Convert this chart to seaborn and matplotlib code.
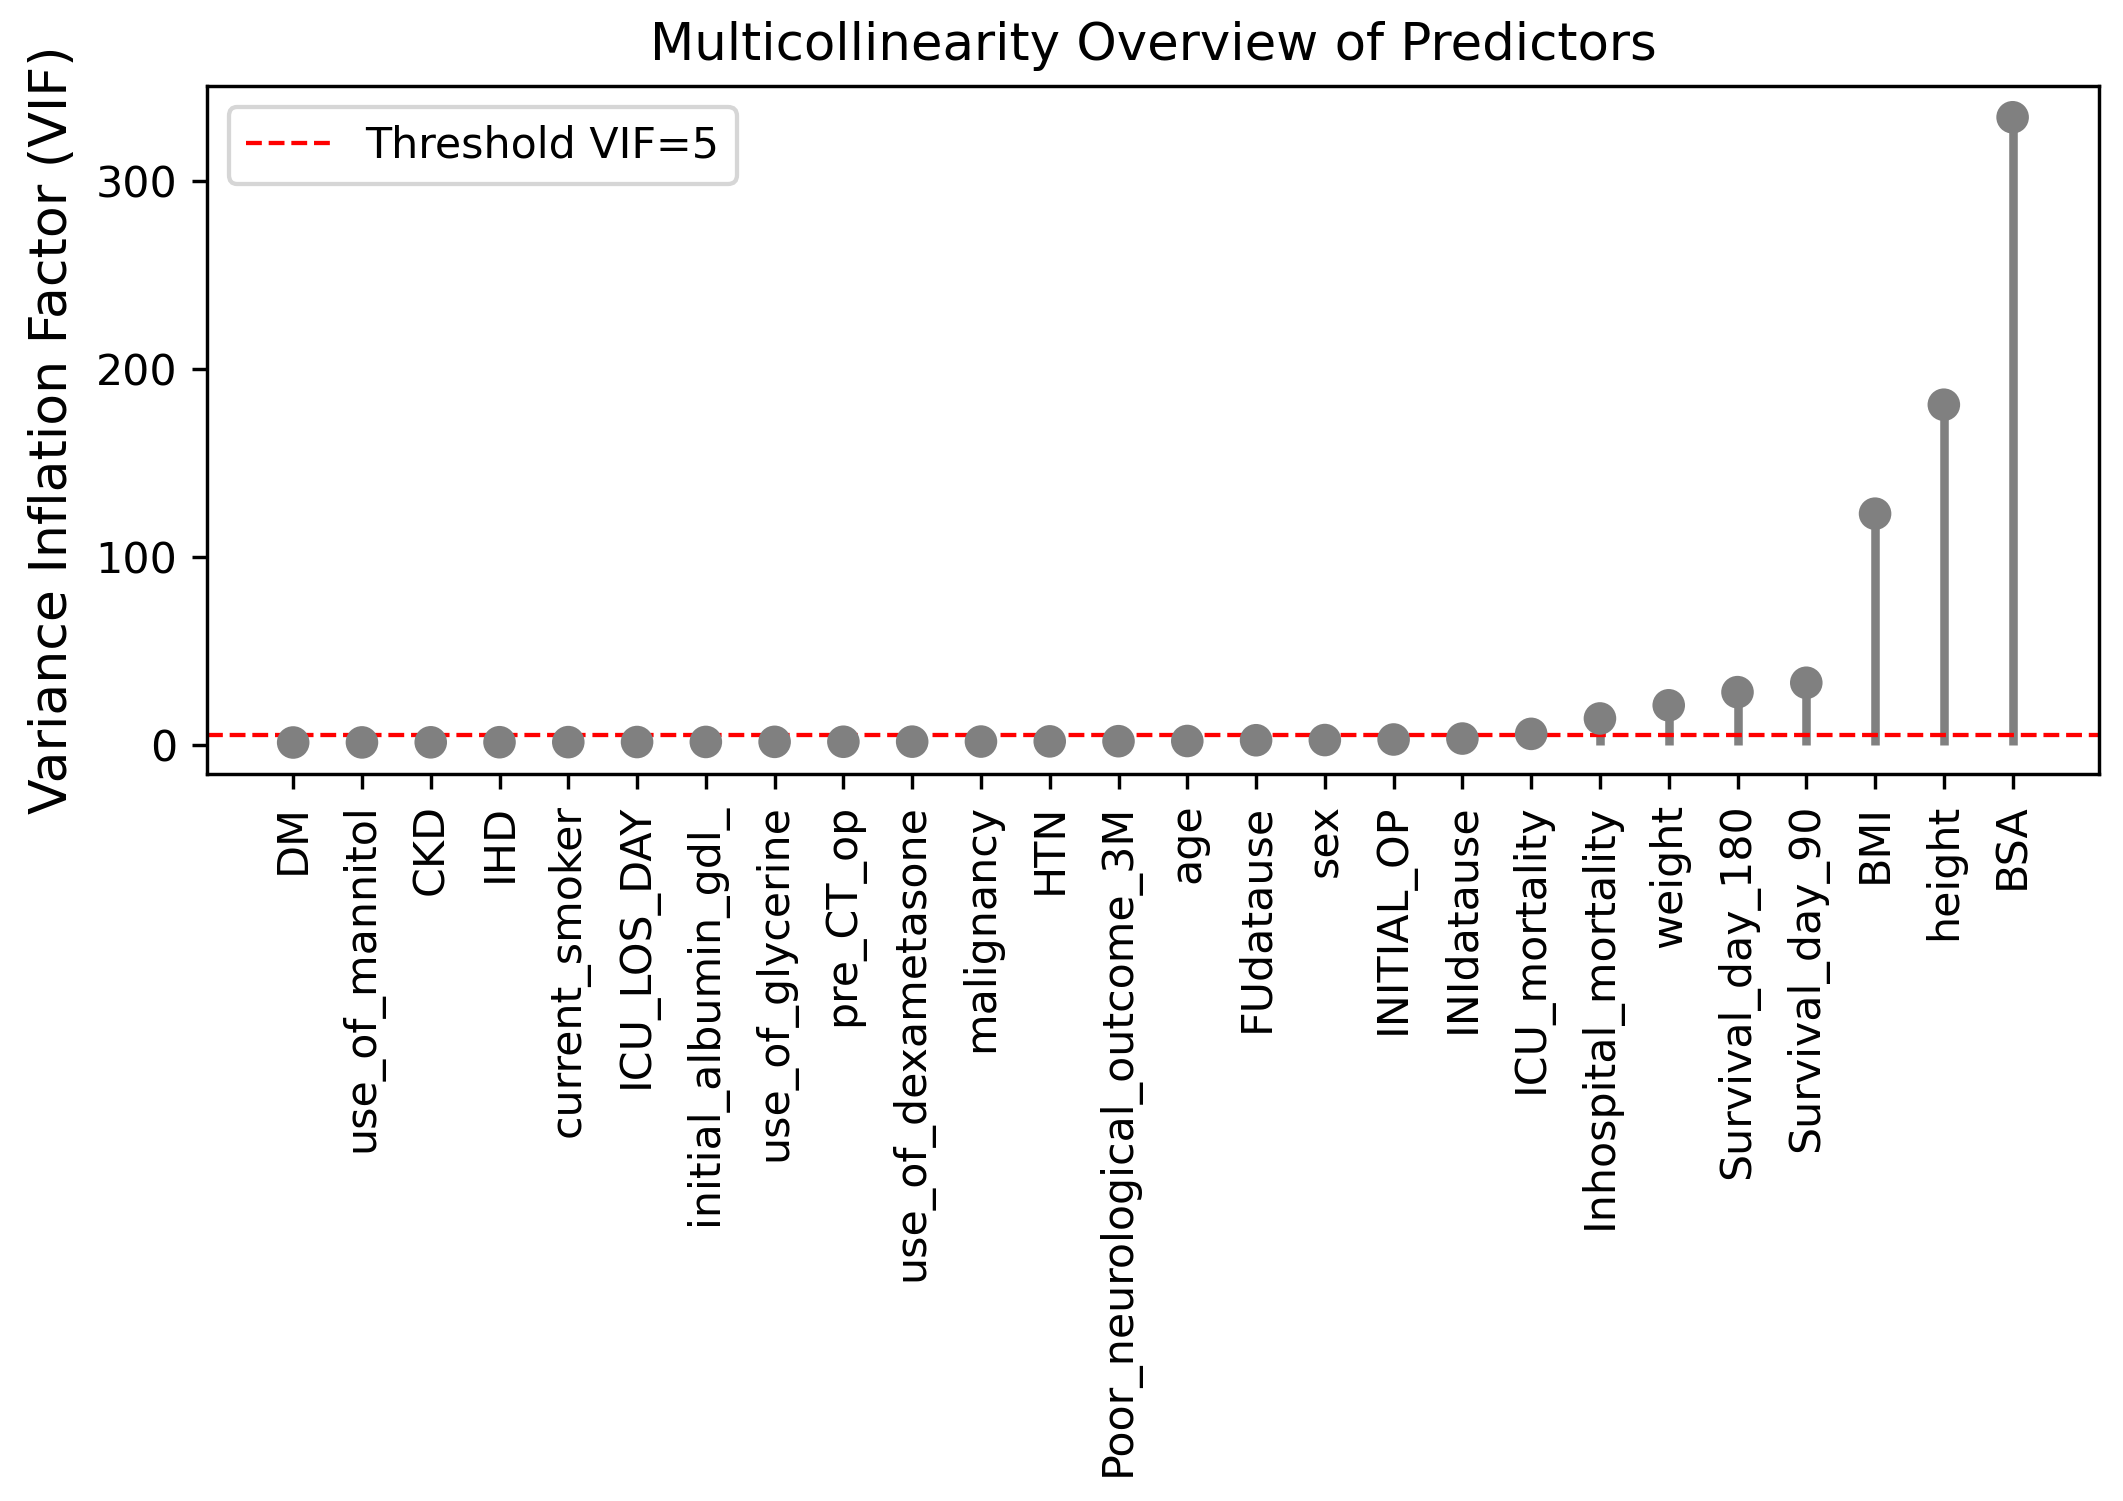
import matplotlib
matplotlib.use("Agg")
import matplotlib.pyplot as plt
import seaborn as sns
import pandas as pd

features = ["DM", "use_of_mannitol", "CKD", "IHD", "current_smoker", "ICU_LOS_DAY",
            "initial_albumin_gdl_", "use_of_glycerine", "pre_CT_op", "use_of_dexametasone",
            "malignancy", "HTN", "Poor_neurological_outcome_3M", "age", "FUdatause", "sex",
            "INITIAL_OP", "INIdatause", "ICU_mortality", "Inhospital_mortality", "weight",
            "Survival_day_180", "Survival_day_90", "BMI", "height", "BSA"]
vif = [1.2, 1.25, 1.3, 1.35, 1.4, 1.45, 1.5, 1.55, 1.6, 1.65, 1.7, 1.8, 1.9, 2.0,
       2.4, 2.5, 2.8, 3.3, 5.8, 14.0, 21.0, 28.0, 33.0, 123.0, 181.0, 334.0]
yticks = [0, 100, 200, 300]
threshold = 5

df = pd.DataFrame({"feature": features, "VIF": vif})

DPI = 308
fig, ax = plt.subplots(figsize=(2123 / DPI, 1501 / DPI), dpi=DPI)
pos = range(len(df))
ax.vlines(pos, 0, df["VIF"], color="gray", linewidth=2)
sns.scatterplot(data=df, x="feature", y="VIF", color="gray", s=58, edgecolor="none", ax=ax, zorder=3)
ax.axhline(threshold, color="red", linestyle="--", linewidth=1, label=f"Threshold VIF={threshold}")
ax.set_xticks(list(pos))
ax.set_xticklabels(features, rotation=90)
ax.set_yticks(yticks)
ax.set_xlabel("")
ax.set_ylabel("Variance Inflation Factor (VIF)", fontsize=12.2)
ax.set_title("Multicollinearity Overview of Predictors")
ax.legend(loc="upper left")
fig.subplots_adjust(left=0.0976, right=0.9885, top=0.9427, bottom=0.4845)
fig.savefig("out.png", dpi=DPI)
